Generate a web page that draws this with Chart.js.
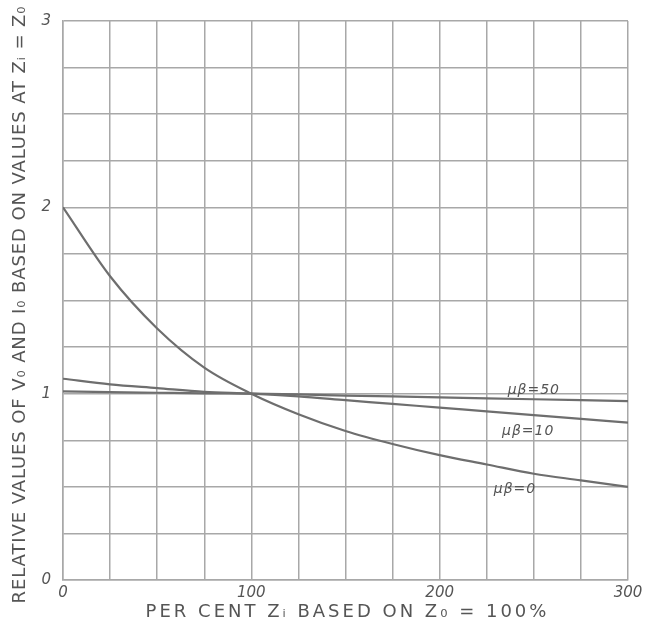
<!DOCTYPE html>
<html>
<head>
<meta charset="utf-8">
<script src="https://cdn.jsdelivr.net/npm/chart.js@4"></script>
<style>
  html, body { margin: 0; padding: 0; background: #fff; }
  #wrap { width: 656px; height: 628px; }
</style>
</head>
<body>
<div id="wrap"><canvas id="zChart" width="656" height="628"></canvas></div>
<script>
// per cent Zi, every 25 %
const zPercent = [0, 25, 50, 75, 100, 125, 150, 175, 200, 225, 250, 275, 300];
const mb50 = [1.012, 1.008, 1.005, 1.002, 1.0, 0.996, 0.99, 0.985, 0.98, 0.975, 0.97, 0.965, 0.96];
const mb10 = [1.08, 1.05, 1.03, 1.01, 1.0, 0.985, 0.965, 0.945, 0.925, 0.905, 0.885, 0.865, 0.845];
const mb0 = [2.0, 1.63, 1.35, 1.14, 1.0, 0.89, 0.80, 0.73, 0.67, 0.62, 0.57, 0.535, 0.5];

const seriesNames = ['μβ=50', 'μβ=10', 'μβ=0'];
// where each curve's handwritten label sits (data units)
const labelAt = [[250, 1.02], [247, 0.80], [240, 0.485]];

const xTickLabels = [0, 100, 200, 300];
const yTickLabels = [0, 1, 2, 3];
const xTitle = 'PER CENT Zᵢ BASED ON Z₀ = 100%';
const yTitle = 'RELATIVE VALUES OF V₀ AND I₀ BASED ON VALUES AT Zᵢ = Z₀';

const ink = '#6e6e6e';
const gridInk = '#a8a8a8';
const textInk = '#555';

const toPoints = (ys) => zPercent.map((x, i) => ({ x: x, y: ys[i] }));

// curve labels + spaced-out axis titles
const handLabels = {
  id: 'handLabels',
  afterDraw(chart) {
    const { ctx, scales, chartArea } = chart;
    ctx.save();
    ctx.fillStyle = textInk;
    ctx.textAlign = 'center';
    ctx.textBaseline = 'middle';

    ctx.font = 'italic 14px "DejaVu Sans"';
    ctx.letterSpacing = '1px';
    seriesNames.forEach((name, i) => {
      ctx.fillText(name, scales.x.getPixelForValue(labelAt[i][0]), scales.y.getPixelForValue(labelAt[i][1]));
    });

    ctx.font = '18px "DejaVu Sans"';
    ctx.letterSpacing = '3px';
    ctx.fillText(xTitle, (chartArea.left + chartArea.right) / 2 + 2, 612);

    ctx.font = '18px "DejaVu Sans"';
    ctx.letterSpacing = '0.9px';
    ctx.translate(20, (chartArea.top + chartArea.bottom) / 2 + 4);
    ctx.rotate(-Math.PI / 2);
    ctx.fillText(yTitle, 0, 0);
    ctx.restore();
  }
};

const ctx = document.getElementById('zChart').getContext('2d');
const zChart = new Chart(ctx, {
  type: 'scatter',
  data: {
    datasets: [mb50, mb10, mb0].map((ys, i) => ({
      label: seriesNames[i],
      data: toPoints(ys),
      showLine: true,
      borderColor: ink,
      borderWidth: 2.2,
      pointRadius: 0,
      tension: 0.4,
      cubicInterpolationMode: 'monotone'
    }))
  },
  options: {
    responsive: false,
    animation: false,
    layout: { padding: { top: 16, right: 28, left: 0, bottom: 0 } },
    scales: {
      x: {
        type: 'linear',
        min: 0,
        max: 300,
        afterFit: (scale) => { scale.height = 48; },
        ticks: {
          stepSize: 25,
          autoSkip: false,
          maxRotation: 0,
          padding: 4,
          color: textInk,
          font: { family: '"DejaVu Sans"', size: 15, style: 'italic' },
          callback: (v) => xTickLabels.includes(v) ? String(v) : ''
        },
        grid: { color: gridInk, lineWidth: 1.5, drawTicks: false },
        border: { color: gridInk, width: 1.5 }
      },
      y: {
        min: 0,
        max: 3,
        afterFit: (scale) => { scale.width = 63; },
        ticks: {
          stepSize: 0.25,
          autoSkip: false,
          padding: 12,
          color: textInk,
          font: { family: '"DejaVu Sans"', size: 15, style: 'italic' },
          callback: (v) => yTickLabels.includes(v) ? String(v) : ''
        },
        grid: { color: gridInk, lineWidth: 1.5, drawTicks: false },
        border: { color: gridInk, width: 1.5 }
      }
    },
    plugins: {
      legend: { display: false },
      tooltip: { enabled: false }
    }
  },
  plugins: [handLabels]
});
</script>
</body>
</html>
